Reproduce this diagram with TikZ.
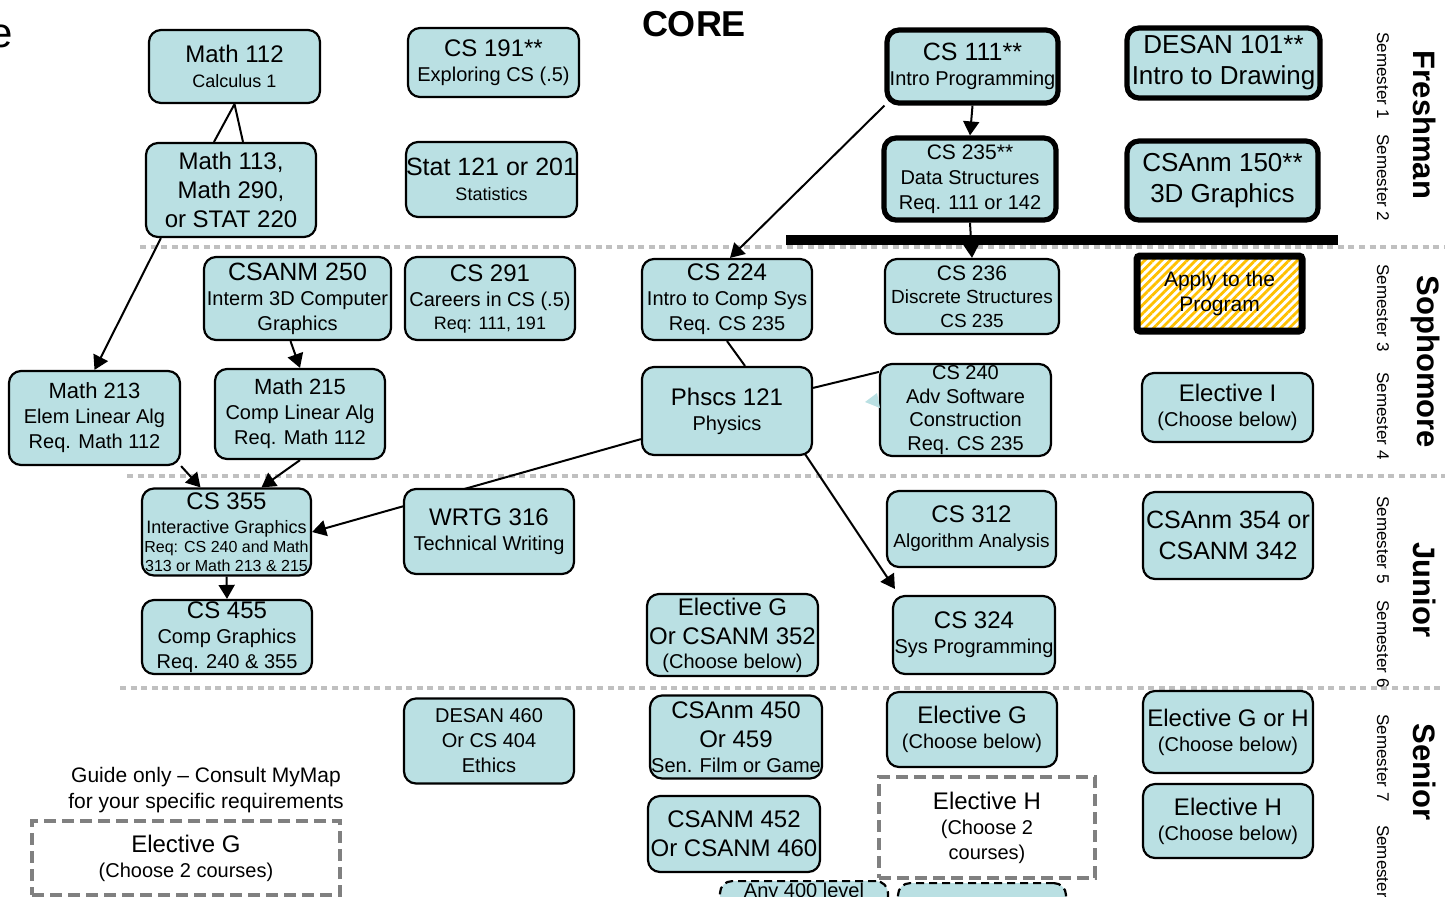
\documentclass[tikz,border=0pt]{standalone}
\usepackage{fontspec}
\setmainfont{Liberation Sans}
\usetikzlibrary{positioning}
\usetikzlibrary{arrows.meta}
\usetikzlibrary{calc}
\usetikzlibrary{backgrounds}
\usetikzlibrary{patterns.meta}
\definecolor{boxfill}{HTML}{BAE0E3}
\definecolor{sepgray}{HTML}{C0C0C0}
\definecolor{keygray}{HTML}{808080}
\definecolor{hatch}{HTML}{FFC000}
\newcommand{\widesz}{\fontsize{13}{15.5}\selectfont}
\newcommand{\titlesz}{\fontsize{12}{14.5}\selectfont}
\newcommand{\infosz}{\fontsize{10}{12.5}\selectfont}
\newcommand{\notesz}{\fontsize{9}{11}\selectfont}
\newcommand{\tinysz}{\fontsize{8}{9.5}\selectfont}

\begin{document}
\begin{tikzpicture}[x=0.5pt, y=-0.5pt,
    course/.style={draw=black, line width=1.1pt, fill=boxfill, rounded corners=6pt,
                   inner sep=0pt, align=center, font=\infosz},
    corebox/.style={course, line width=2.6pt},
    guidebox/.style={draw=keygray, line width=2pt, dash pattern=on 6pt off 3pt,
                     inner sep=0pt, align=center, font=\infosz},
    cutbox/.style={course, dash pattern=on 4pt off 2.5pt},
    wh/.style 2 args={minimum width=#1pt, minimum height=#2pt},
    semline/.style={draw=sepgray, line width=2pt, dash pattern=on 3pt off 2.3pt},
    prereq/.style={-{Triangle[length=7pt, width=8pt]}, line width=1pt},
    joint/.style={line width=1pt},
    semlabel/.style={rotate=-90, font=\fontsize{8.5}{10}\selectfont},
    yearlabel/.style={rotate=-90, font=\bfseries\fontsize{15.5}{18}\selectfont}]

  \useasboundingbox (0,0) rectangle (1445,896);

  % title
  \node[font=\fontsize{21}{24}\selectfont, anchor=base east, inner sep=0pt] (cut) at (13,47) {e};
  \node[font=\bfseries\fontsize{18}{21}\selectfont] (core) at (694,24) {CORE};

  % freshman
  \node[course, wh={85.5}{36.5}] (m112) at (234.5,66.5) {{\titlesz Math 112}\\{\notesz Calculus 1}};
  \node[course, wh={85.5}{34.5}] (cs191) at (493.5,62.5) {{\titlesz CS 191**}\\Exploring CS (.5)};
  \node[corebox, wh={85.5}{36.5}] (cs111) at (972.5,66.5) {{\fontsize{12.5}{14}\selectfont CS 111**}\\Intro Programming};
  \node[corebox, wh={96.5}{35}, font=\widesz] (desan101) at (1223.5,63) {DESAN 101**\\Intro to Drawing};
  \node[course, wh={85}{47}, font=\titlesz] (m113) at (231,190) {Math 113,\\Math 290,\\or STAT 220};
  \node[course, wh={83.5}{37.5}] (stat) at (491.5,179.5) {{\fontsize{12.5}{14}\selectfont Stat 121 or 201}\\{\notesz Statistics}};
  \node[corebox, wh={86}{41}] (cs235) at (970,179) {{\fontsize{10.5}{12}\selectfont CS 235**}\\Data Structures\\Req. 111 or 142};
  \node[corebox, wh={95.5}{39.5}, font=\widesz] (csanm150) at (1222.5,180.5) {CSAnm 150**\\3D Graphics};

  % sophomore
  \node[course, wh={93.5}{41.5}] (csanm250) at (297.5,298.5) {{\fontsize{12.5}{14}\selectfont CSANM 250}\\Interm 3D Computer\\Graphics};
  \node[course, wh={85}{41.5}] (cs291) at (490,298.5) {{\titlesz CS 291}\\Careers in CS (.5)\\[-1pt]{\notesz Req: 111, 191}};
  \node[course, wh={85}{40.5}] (cs224) at (727,299.5) {{\titlesz CS 224}\\Intro to Comp Sys\\Req. CS 235};
  \node[course, wh={87}{37.5}, font=\fontsize{9.5}{11.75}\selectfont] (cs236) at (972,296.5) {{\fontsize{10.5}{12}\selectfont CS 236}\\Discrete Structures\\CS 235};
  \node[draw=black, line width=3.5pt, rounded corners=1.5pt, wh={82.5}{37.5},
        pattern={Lines[angle=45, distance=3pt, line width=1.4pt]}, pattern color=hatch,
        inner sep=0pt, align=center, font=\fontsize{10.5}{12.5}\selectfont] (apply) at (1219.5,293.5) {Apply to the\\Program};
  \node[course, wh={85.5}{47}] (m213) at (94.5,418) {{\fontsize{11}{13}\selectfont Math 213}\\Elem Linear Alg\\Req. Math 112};
  \node[course, wh={85}{45}] (m215) at (300,414) {{\fontsize{11}{13}\selectfont Math 215}\\Comp Linear Alg\\Req. Math 112};
  \node[course, wh={85}{44}] (phscs) at (727,411) {{\titlesz Phscs 121}\\Physics};
  \node[course, wh={85.5}{46}, font=\fontsize{10}{11.8}\selectfont] (cs240) at (965.5,410) {CS 240\\Adv Software\\Construction\\Req. CS 235};
  \node[course, wh={85.5}{34.5}] (elecI) at (1227.5,407.5) {{\titlesz Elective I}\\(Choose below)};
  \fill[boxfill] (865,402) -- (877,393) -- (880,408) -- cycle;

  % junior
  \node[course, wh={84.5}{43.5}, font=\tinysz] (cs355) at (226.5,532) {{\titlesz CS 355}\\[2.5pt]{\notesz Interactive Graphics}\\Req: CS 240 and Math\\313 or Math 213 \& 215};
  \node[course, wh={85}{42.5}] (wrtg) at (489,531.5) {{\titlesz WRTG 316}\\Technical Writing};
  \node[course, wh={84.5}{38}] (cs312) at (971.5,529) {{\titlesz CS 312}\\{\fontsize{9.5}{11}\selectfont Algorithm Analysis}};
  \node[course, wh={85}{43.5}, font=\fontsize{12.5}{15.5}\selectfont] (csanm354) at (1228,535.5) {CSAnm 354 or\\CSANM 342};
  \node[course, wh={85}{37}] (cs455) at (227,637) {{\titlesz CS 455}\\Comp Graphics\\Req. 240 \& 355};
  \node[course, wh={85.5}{41}, font=\titlesz] (elecG3) at (732.5,635) {Elective G\\Or CSANM 352\\[-2.5pt]{\infosz (Choose below)}};
  \node[course, wh={81}{39}] (cs324) at (974,635) {{\titlesz CS 324}\\Sys Programming};

  % senior
  \node[course, wh={85}{42.5}] (desan460) at (489,741) {DESAN 460\\Or CS 404\\Ethics};
  \node[course, wh={86}{41.5}, font=\titlesz] (csanm450) at (736,737) {CSAnm 450\\Or 459\\[-2pt]{\infosz Sen. Film or Game}};
  \node[course, wh={85}{37.5}] (elecG4) at (972,729.5) {{\titlesz Elective G}\\(Choose below)};
  \node[course, wh={85}{41}] (elecGH) at (1228,732) {{\titlesz Elective G or H}\\(Choose below)};
  \node[course, wh={86}{38}, font=\titlesz] (csanm452) at (734,834) {CSANM 452\\Or CSANM 460};
  \node[guidebox, wh={108}{50.5}] (elecH2) at (987,827.5) {{\titlesz Elective H}\\(Choose 2\\courses)};
  \node[course, wh={85}{37}] (elecH4) at (1228,821) {{\titlesz Elective H}\\(Choose below)};
  \node[cutbox, wh={84}{0}, anchor=north, inner ysep=1pt] (any400) at (804,880) {Any 400 level\\\phantom{A}};
  \node[cutbox, wh={84}{40}, anchor=north] (more400) at (982,882) {};

  % key
  \node[align=center, font=\fontsize{10.5}{13}\selectfont] (guide) at (206,790) {Guide only -- Consult MyMap\\for your specific requirements};
  \node[guidebox, wh={154}{37}] (elecGkey) at (186,858) {{\titlesz Elective G}\\(Choose 2 courses)};

  % year and semester labels
  \node[yearlabel] (fresh) at (1425,125) {Freshman};
  \node[yearlabel] (soph) at (1425,362) {Sophomore};
  \node[yearlabel] (jun) at (1425,590) {Junior};
  \node[yearlabel] (sen) at (1425,772) {Senior};
  \node[semlabel] (s1) at (1383,76) {Semester 1};
  \node[semlabel] (s2) at (1383,178) {Semester 2};
  \node[semlabel] (s3) at (1383,308) {Semester 3};
  \node[semlabel] (s4) at (1383,416) {Semester 4};
  \node[semlabel] (s5) at (1383,540) {Semester 5};
  \node[semlabel] (s6) at (1383,644) {Semester 6};
  \node[semlabel] (s7) at (1383,758) {Semester 7};
  \node[semlabel, anchor=west] (s8) at (1383,818) {Semester};

  \begin{scope}[on background layer]
    % semester separators
    \draw[semline] (140,247) -- (1445,247);
    \draw[semline] (127,476) -- (1445,476);
    \draw[semline] (120,688) -- (1445,688);

    % prerequisites
    \draw[joint] ($(m113.north)+(-17,0)$) -- (m112.south) -- ($(m113.north)+(12,0)$);
    \draw[prereq] ($(m113.south west)+(16,0)$) -- (m213.north);
    \draw[prereq] ($(csanm250.south)+(-7,0)$) -- (m215.north);
    \draw[prereq] (m213.south east) -- ($(cs355.north)+(-26,0)$);
    \draw[prereq] (m215.south) -- ($(cs355.north)+(35,0)$);
    \draw[prereq] (cs355.south) -- (cs455.north);
    \draw[prereq] ($(phscs.south west)+(0,-17)$) -- (cs355.east);
    \draw[joint] ($(phscs.north east)+(0,22)$) -- ($(cs240.north west)+(0,9)$);
    \draw[prereq] ($(phscs.south east)+(-12,-8)$) -- ($(cs324.north west)+(3,-6)$);
    \draw[joint] (cs224.south) -- ($(phscs.north)+(18,0)$);
    \draw[prereq] (cs111.south west) -- ($(cs224.north)+(3,0)$);
    \draw[prereq] (cs111.south) -- (cs235.north);
    \draw[prereq] (cs235.south) -- (cs236.north);
  \end{scope}

  % admission bar
  \draw[line width=5pt] (786,240) -- (1338,240);

\end{tikzpicture}
\end{document}
